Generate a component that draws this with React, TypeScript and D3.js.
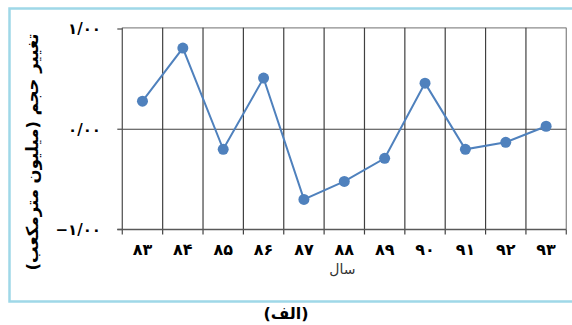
import React from "react";
import * as d3 from "d3";

const years = ["۸۳", "۸۴", "۸۵", "۸۶", "۸۷", "۸۸", "۸۹", "۹۰", "۹۱", "۹۲", "۹۳"];
const values = [0.28, 0.81, -0.2, 0.51, -0.7, -0.52, -0.29, 0.46, -0.2, -0.13, 0.03];
const yTicks = [-1, 0, 1];
const yTickLabels = ["−۱/۰۰", "۰/۰۰", "۱/۰۰"];
const yTitle = "تغییر حجم (میلیون مترمکعب)";
const xTitle = "سال";
const caption = "(الف)";

export default function App() {
  const W = 572, H = 325;
  const left = 122.3, right = 566.3, top = 29, bottom = 229.5;
  const x = d3.scaleBand<string>().domain(years).range([left, right]);
  const y = d3.scaleLinear().domain([-1, 1]).range([bottom, top]);
  const line = d3
    .line<number>()
    .x((_, i) => (x(years[i]) as number) + x.bandwidth() / 2)
    .y((d) => y(d));
  const font = "'DejaVu Sans', sans-serif";
  const boundaries = years.map((_, i) => left + i * x.bandwidth()).concat([right]);
  const plotTop = 27.8;
  return (
    <svg width={W} height={H} style={{ position: "absolute", left: 0, top: 0, background: "#fff" }}>
      {/* frame */}
      <path d={`M580,8.5 H9.5 V301.5 H580`} fill="none" stroke="#9fd8e8" strokeWidth={2.5} />
      {/* plot border top & right */}
      <line x1={left} x2={right} y1={plotTop} y2={plotTop} stroke="#8c8c8c" strokeWidth={1.3} />
      <line x1={right} x2={right} y1={plotTop} y2={bottom} stroke="#8c8c8c" strokeWidth={1.3} />
      {/* vertical gridlines */}
      {boundaries.slice(1, -1).map((b, i) => (
        <line key={i} x1={b} x2={b} y1={plotTop} y2={bottom + 5} stroke="#404040" strokeWidth={1.2} />
      ))}
      {/* zero line */}
      <line x1={left} x2={right} y1={y(0)} y2={y(0)} stroke="#404040" strokeWidth={1.2} />
      {/* axes */}
      <line x1={left} x2={left} y1={plotTop} y2={bottom + 5} stroke="#595959" strokeWidth={1.3} />
      <line x1={left - 5} x2={right} y1={bottom} y2={bottom} stroke="#595959" strokeWidth={1.3} />
      <line x1={right} x2={right} y1={bottom} y2={bottom + 5} stroke="#595959" strokeWidth={1.3} />
      {yTicks.map((t) => (
        <line key={t} x1={left - 5} x2={left} y1={y(t)} y2={y(t)} stroke="#595959" strokeWidth={1.3} />
      ))}
      {/* y tick labels */}
      {yTicks.map((t, i) => (
        <text key={t} x={101} y={y(t)} dy="0.35em" textAnchor="end" fontFamily={font} fontWeight="bold" fontSize={15} fill="#000">
          {yTickLabels[i]}
        </text>
      ))}
      {/* x tick labels */}
      {years.map((yr) => (
        <text key={yr} x={(x(yr) as number) + x.bandwidth() / 2} y={249} dy="0.35em" textAnchor="middle" fontFamily={font} fontWeight="bold" fontSize={16} fill="#000">
          {yr}
        </text>
      ))}
      <text x={x("۸۸")! + x.bandwidth() / 2 - 2} y={269} dy="0.35em" textAnchor="middle" fontFamily={font} fontSize={14} fill="#333">
        {xTitle}
      </text>
      <text transform={`translate(32,152) rotate(-90)`} textAnchor="middle" dy="0.35em" fontFamily={font} fontWeight="bold" fontSize={16.5} fill="#000">
        {yTitle}
      </text>
      {/* series */}
      <path d={line(values) || ""} fill="none" stroke="#4f81bd" strokeWidth={2} />
      {values.map((v, i) => (
        <circle key={i} cx={(x(years[i]) as number) + x.bandwidth() / 2} cy={y(v)} r={5.5} fill="#4f81bd" />
      ))}
      <text x={286} y={313} dy="0.35em" textAnchor="middle" fontFamily={font} fontWeight="bold" fontSize={16} fill="#000">
        {caption}
      </text>
    </svg>
  );
}
